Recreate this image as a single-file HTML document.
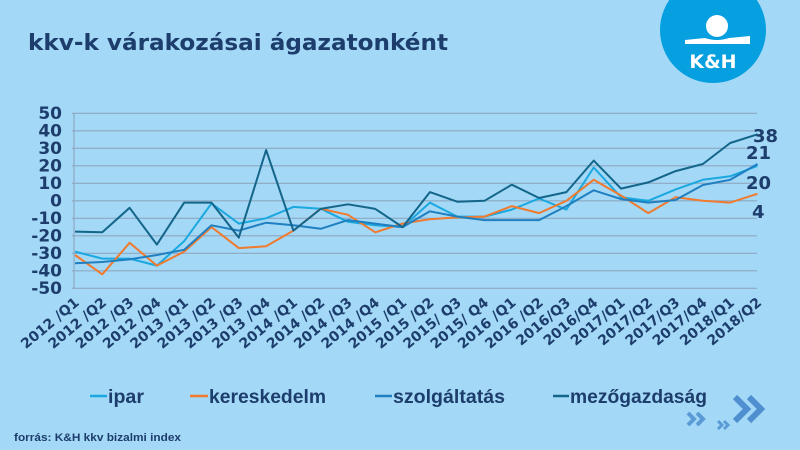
<!DOCTYPE html>
<html><head><meta charset="utf-8"><style>
html,body{margin:0;padding:0;background:#a3d8f6;}
svg{display:block;}
</style></head><body>
<svg width="800" height="450" viewBox="0 0 800 450" xmlns="http://www.w3.org/2000/svg" font-family="Liberation Sans, sans-serif">
<rect width="800" height="450" fill="#a3d8f6"/>
<text x="28" y="50" font-family="DejaVu Sans, sans-serif" font-size="22" font-weight="bold" fill="#1d3d6c" textLength="420" lengthAdjust="spacingAndGlyphs">kkv-k várakozásai ágazatonként</text>
<circle cx="713" cy="30" r="53" fill="#069fe0"/>
<circle cx="717" cy="26" r="11" fill="#fff"/>
<path d="M685 40 L705 38 Q717 42 729 38 L750 36 L750 44 L685 44 Z" fill="#fff"/>
<text x="713" y="68" font-family="DejaVu Sans, sans-serif" font-size="19" font-weight="bold" fill="#fff" text-anchor="middle">K&amp;H</text>
<g stroke="#8ea8c0" stroke-width="1.2">
<line x1="72" y1="113.3" x2="757" y2="113.3"/><line x1="72" y1="130.8" x2="757" y2="130.8"/>
<line x1="72" y1="148.3" x2="757" y2="148.3"/><line x1="72" y1="165.8" x2="757" y2="165.8"/>
<line x1="72" y1="183.3" x2="757" y2="183.3"/><line x1="72" y1="200.8" x2="757" y2="200.8"/>
<line x1="72" y1="218.3" x2="757" y2="218.3"/><line x1="72" y1="235.8" x2="757" y2="235.8"/>
<line x1="72" y1="253.3" x2="757" y2="253.3"/><line x1="72" y1="270.8" x2="757" y2="270.8"/>
<line x1="72" y1="288.3" x2="757" y2="288.3"/>
<line x1="74" y1="113" x2="74" y2="288"/>
</g>
<g font-family="DejaVu Sans, sans-serif" font-size="17" font-weight="bold" fill="#1d3d6c" text-anchor="end">
<text x="62" y="119">50</text><text x="62" y="136.5">40</text><text x="62" y="154">30</text><text x="62" y="171.5">20</text><text x="62" y="189">10</text><text x="62" y="206.5">0</text><text x="62" y="224">-10</text><text x="62" y="241.5">-20</text><text x="62" y="259">-30</text><text x="62" y="276.5">-40</text><text x="62" y="294">-50</text>
</g>
<g fill="none" stroke-width="2" stroke-linejoin="round">
<polyline stroke="#1aa8e0" points="75,251.6 102.3,258.6 129.6,258.6 156.9,265.6 184.2,241.1 211.5,203.4 238.8,223.6 266.1,218.3 293.4,206.9 320.7,208.7 348,221.8 375.3,225.3 402.6,227.1 429.9,202.6 457.2,216.6 484.5,216.6 511.8,209.6 539.1,198.5 566.4,209.6 593.7,167.5 621,197.3 648.3,200.8 675.6,189.4 702.9,179.8 730.2,176.3 757.5,165.8"/>
<polyline stroke="#f07a2e" points="75,255 102.3,274.3 129.6,242.8 156.9,265.6 184.2,251.6 211.5,227.1 238.8,248.1 266.1,246.3 293.4,230.6 320.7,208.7 348,214.8 375.3,232.3 402.6,223.6 429.9,219.2 457.2,217.4 484.5,216.6 511.8,206.1 539.1,213.1 566.4,200.8 593.7,179.8 621,195.5 648.3,213.1 675.6,197.3 702.9,200.8 730.2,202.6 757.5,193.8"/>
<polyline stroke="#1f7fc0" points="75,263.3 102.3,262 129.6,259.4 156.9,255 184.2,249.8 211.5,225.3 238.8,230.6 266.1,222.7 293.4,225.3 320.7,228.8 348,220.1 375.3,223.6 402.6,227.1 429.9,211.3 457.2,216.6 484.5,220.1 511.8,220.1 539.1,220.1 566.4,206.1 593.7,190.3 621,199.1 648.3,202.6 675.6,200 702.9,185 730.2,179.8 757.5,164"/>
<polyline stroke="#13658a" points="75,231.6 102.3,232.3 129.6,207.8 156.9,244.6 184.2,202.6 211.5,202.6 238.8,237.6 266.1,150 293.4,230.6 320.7,208.9 348,204.3 375.3,208.9 402.6,227.1 429.9,192.1 457.2,201.7 484.5,200.8 511.8,184.7 539.1,198 566.4,192.1 593.7,160.6 621,188.6 648.3,182.4 675.6,171.1 702.9,164 730.2,143 757.5,134.3"/>
</g>
<g font-family="DejaVu Sans, sans-serif" font-size="18" font-weight="bold" fill="#1d3d6c">
<text x="753" y="142">38</text><text x="746" y="159">21</text><text x="746" y="189">20</text><text x="752" y="218">4</text>
</g>
<g font-family="DejaVu Sans, sans-serif" font-size="14" font-weight="bold" fill="#1d3d6c" text-anchor="end">
<text transform="translate(80,304) rotate(-40)">2012 /Q1</text>
<text transform="translate(107.3,304) rotate(-40)">2012 /Q2</text>
<text transform="translate(134.6,304) rotate(-40)">2012 /Q3</text>
<text transform="translate(161.9,304) rotate(-40)">2012 /Q4</text>
<text transform="translate(189.2,304) rotate(-40)">2013 /Q1</text>
<text transform="translate(216.5,304) rotate(-40)">2013 /Q2</text>
<text transform="translate(243.8,304) rotate(-40)">2013 /Q3</text>
<text transform="translate(271.1,304) rotate(-40)">2013 /Q4</text>
<text transform="translate(298.4,304) rotate(-40)">2014 /Q1</text>
<text transform="translate(325.7,304) rotate(-40)">2014 /Q2</text>
<text transform="translate(353,304) rotate(-40)">2014 /Q3</text>
<text transform="translate(380.3,304) rotate(-40)">2014 /Q4</text>
<text transform="translate(407.6,304) rotate(-40)">2015 /Q1</text>
<text transform="translate(434.9,304) rotate(-40)">2015 /Q2</text>
<text transform="translate(462.2,304) rotate(-40)">2015/ Q3</text>
<text transform="translate(489.5,304) rotate(-40)">2015/ Q4</text>
<text transform="translate(516.8,304) rotate(-40)">2016 /Q1</text>
<text transform="translate(544.1,304) rotate(-40)">2016 /Q2</text>
<text transform="translate(571.4,304) rotate(-40)">2016/Q3</text>
<text transform="translate(598.7,304) rotate(-40)">2016/Q4</text>
<text transform="translate(626,304) rotate(-40)">2017/Q1</text>
<text transform="translate(653.3,304) rotate(-40)">2017/Q2</text>
<text transform="translate(680.6,304) rotate(-40)">2017/Q3</text>
<text transform="translate(707.9,304) rotate(-40)">2017/Q4</text>
<text transform="translate(735.2,304) rotate(-40)">2018/Q1</text>
<text transform="translate(762.5,304) rotate(-40)">2018/Q2</text>
</g>
<g stroke-width="2.5">
<line x1="90" y1="396" x2="107" y2="396" stroke="#1aa8e0"/>
<line x1="190" y1="396" x2="208" y2="396" stroke="#f07a2e"/>
<line x1="375" y1="396" x2="392" y2="396" stroke="#1f7fc0"/>
<line x1="553" y1="396" x2="569" y2="396" stroke="#13658a"/>
</g>
<g font-size="19" font-weight="bold" fill="#1d3d6c">
<text x="108" y="403" textLength="36" lengthAdjust="spacingAndGlyphs">ipar</text>
<text x="209" y="403" textLength="117" lengthAdjust="spacingAndGlyphs">kereskedelm</text>
<text x="393" y="403" textLength="112" lengthAdjust="spacingAndGlyphs">szolgáltatás</text>
<text x="570" y="403" textLength="137" lengthAdjust="spacingAndGlyphs">mezőgazdaság</text>
</g>
<text x="14" y="441" font-size="11" font-weight="bold" fill="#1d3d6c" textLength="167" lengthAdjust="spacingAndGlyphs">forrás: K&amp;H kkv bizalmi index</text>
<g fill="none" stroke-linecap="butt">
<path d="M735 397 L747 409 L735 421 M749 397 L761 409 L749 421" stroke="#4f8fd0" stroke-width="6"/>
<path d="M688 413 L694 419 L688 425 M697 413 L703 419 L697 425" stroke="#5a9ad6" stroke-width="4"/>
<path d="M718 421 L722 425 L718 429 M724 421 L728 425 L724 429" stroke="#5a9ad6" stroke-width="3"/>
</g>
</svg>
</body></html>
